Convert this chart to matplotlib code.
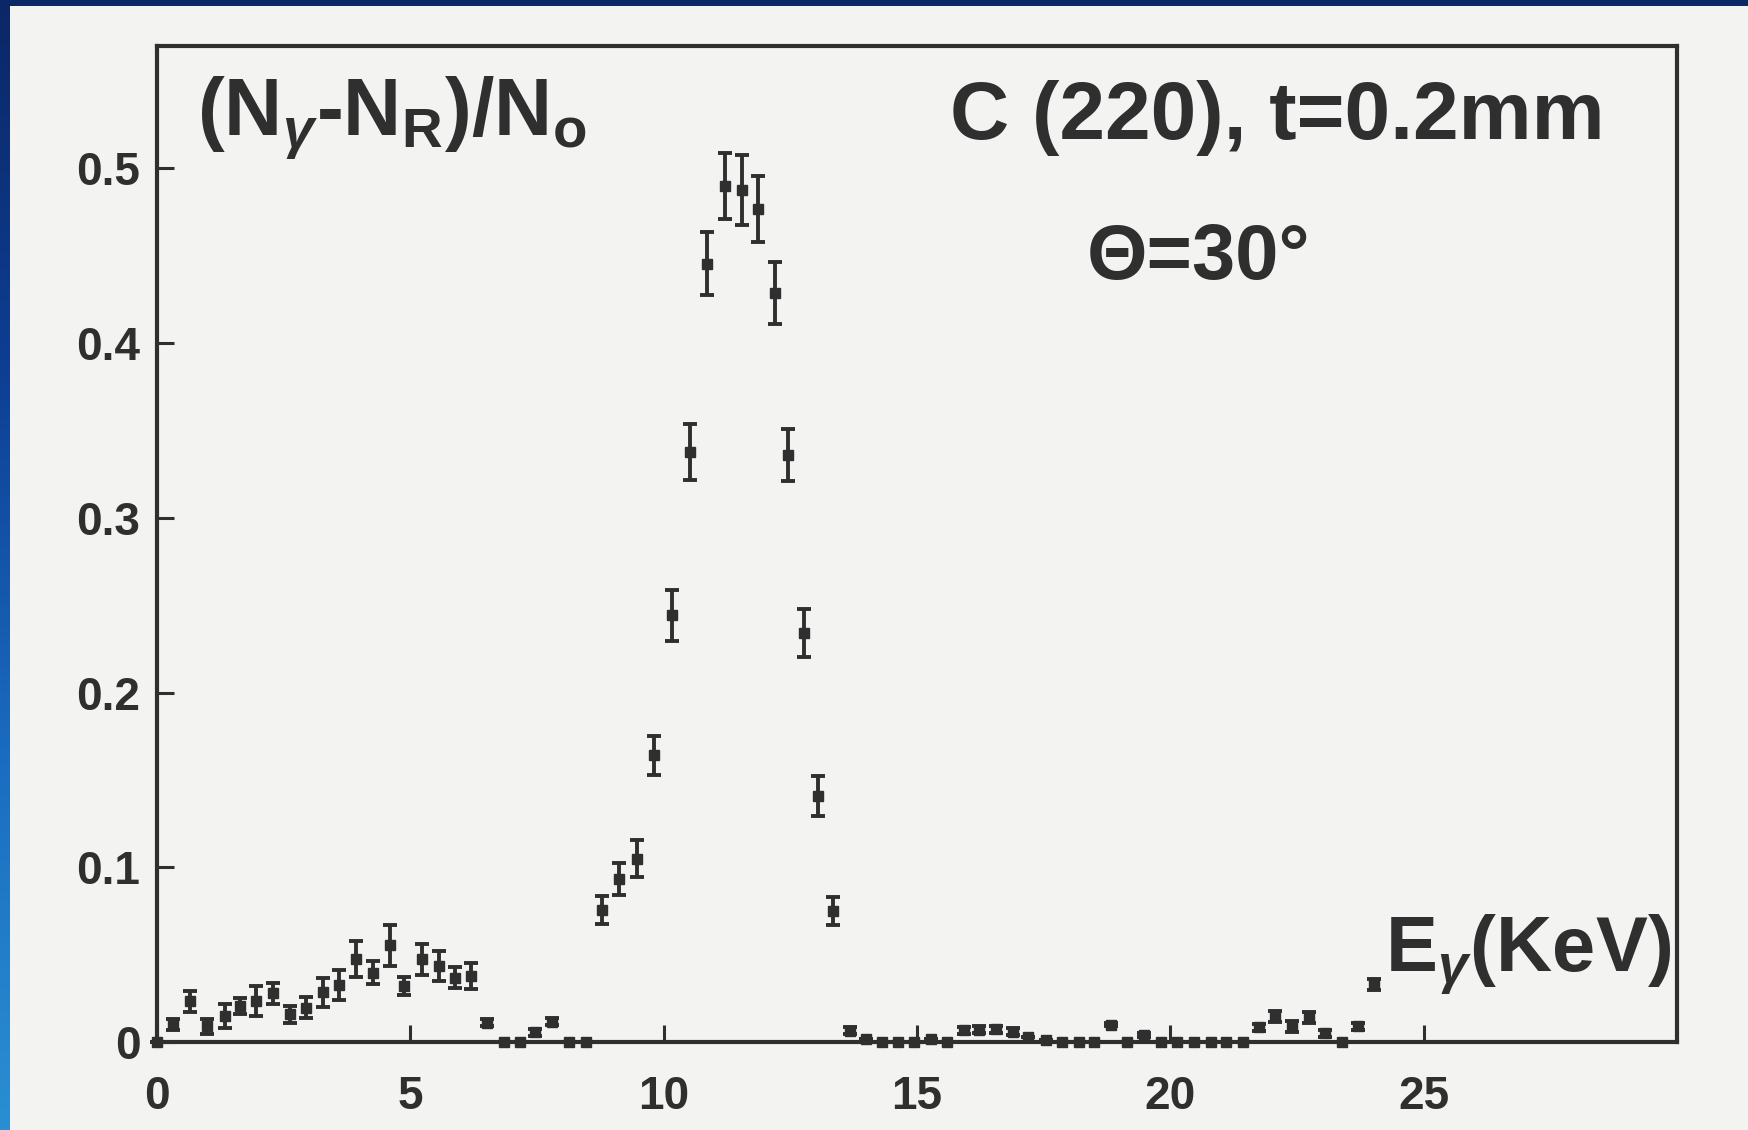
import numpy as np
import matplotlib
matplotlib.use("Agg")
import matplotlib.pyplot as plt
from matplotlib.patches import Rectangle
from matplotlib.colors import LinearSegmentedColormap

plt.rcParams['font.family'] = ['Liberation Sans', 'DejaVu Sans']
plt.rcParams['font.weight'] = 'bold'
plt.rcParams['mathtext.fontset'] = 'custom'
plt.rcParams['mathtext.bf'] = 'Liberation Sans:bold'
plt.rcParams['mathtext.rm'] = 'Liberation Sans:bold'
plt.rcParams['mathtext.it'] = 'Liberation Sans:italic'

# photon energy bins (keV), normalised yield and its error
energy = [0.00, 0.32, 0.65, 0.98, 1.34, 1.63, 1.96, 2.29, 2.62, 2.95,
          3.27, 3.59, 3.93, 4.26, 4.59, 4.88, 5.24, 5.57, 5.89, 6.19,
          6.52, 6.85, 7.16, 7.47, 7.80, 8.14, 8.46, 8.79, 9.11, 9.48,
          9.80, 10.17, 10.52, 10.85, 11.21, 11.54, 11.87, 12.20, 12.46, 12.76,
          13.05, 13.35, 13.67, 14.00, 14.30, 14.63, 14.95, 15.28, 15.60, 15.92,
          16.23, 16.55, 16.89, 17.19, 17.55, 17.87, 18.20, 18.50, 18.83, 19.15,
          19.48, 19.81, 20.14, 20.47, 20.80, 21.10, 21.43, 21.75, 22.07, 22.40,
          22.73, 23.06, 23.39, 23.71, 24.02]
ratio = [0.000, 0.0101, 0.0234, 0.0091, 0.0149, 0.0206, 0.0234, 0.0278, 0.0158, 0.0196,
         0.0286, 0.0324, 0.0473, 0.0396, 0.0553, 0.0320, 0.0473, 0.0435, 0.0368, 0.0377,
         0.0110, 0.000, 0.000, 0.0057, 0.0115, 0.000, 0.000, 0.0753, 0.0934, 0.1049,
         0.1640, 0.2442, 0.3376, 0.4454, 0.4900, 0.4875, 0.4767, 0.4285, 0.3360, 0.2342,
         0.1409, 0.0752, 0.0063, 0.0015, 0.000, 0.000, 0.000, 0.0020, 0.000, 0.0066,
         0.0070, 0.0072, 0.0060, 0.0030, 0.0013, 0.000, 0.000, 0.000, 0.0099, 0.000,
         0.0040, 0.000, 0.000, 0.000, 0.000, 0.000, 0.000, 0.0084, 0.0147, 0.0090,
         0.0141, 0.0050, 0.000, 0.0090, 0.0330]
ratio_err = [0.0, 0.003, 0.006, 0.0043, 0.0067, 0.0048, 0.0086, 0.0062, 0.0048, 0.006,
             0.0083, 0.0086, 0.0103, 0.0065, 0.0116, 0.0052, 0.0088, 0.0084, 0.006, 0.0073,
             0.002, 0.0, 0.0, 0.002, 0.002, 0.0, 0.0, 0.008, 0.009, 0.0105,
             0.0114, 0.0145, 0.016, 0.018, 0.019, 0.020, 0.019, 0.0176, 0.015, 0.0137,
             0.0114, 0.008, 0.002, 0.0, 0.0, 0.0, 0.0, 0.0, 0.0, 0.002,
             0.002, 0.002, 0.002, 0.0, 0.0, 0.0, 0.0, 0.0, 0.001, 0.0,
             0.001, 0.0, 0.0, 0.0, 0.0, 0.0, 0.0, 0.002, 0.003, 0.003,
             0.003, 0.002, 0.0, 0.002, 0.003]

x_ticks = [0, 5, 10, 15, 20, 25]
y_ticks = [0, 0.1, 0.2, 0.3, 0.4, 0.5]
y_tick_labels = ['0', '0.1', '0.2', '0.3', '0.4', '0.5']

ink = '#2f2f2f'
paper = '#f3f3f1'

W, H = 1749, 1130
fig = plt.figure(figsize=(W / 100, H / 100), dpi=100)
fig.patch.set_facecolor(paper)

# slide frame: navy strip on top, blue gradient on the left
fig.patches.append(Rectangle((0, 1 - 6 / H), 1, 6 / H, transform=fig.transFigure,
                             facecolor='#0b2766', edgecolor='none', zorder=5))
edge = fig.add_axes([0, 0, 10 / W, 1])
grad = np.linspace(0, 1, 256).reshape(-1, 1)
frame_cmap = LinearSegmentedColormap.from_list('frame', ['#0b2766', '#0e3f94', '#1a6cc0', '#2a8fd2'])
edge.imshow(grad, aspect='auto', cmap=frame_cmap, extent=[0, 1, 0, 1])
edge.axis('off')

ax = fig.add_axes([157 / W, 1 - 1042 / H, 1520 / W, 996 / H])
ax.set_facecolor(paper)

ax.errorbar(energy, ratio, yerr=ratio_err, fmt='s', ms=7.5, color=ink, ecolor=ink,
            elinewidth=2.8, capsize=5, capthick=2.8, clip_on=False, zorder=3)

ax.set_xlim(0, 30)
ax.set_ylim(0, 0.57)
ax.set_xticks(x_ticks)
ax.set_yticks(y_ticks)
ax.set_yticklabels(y_tick_labels)
ax.tick_params(direction='in', length=12, width=2.2, color=ink, labelcolor=ink,
               labelsize=33, top=False, right=False)
ax.tick_params(axis='x', pad=24)
ax.tick_params(axis='y', pad=12)
for lab in ax.get_xticklabels() + ax.get_yticklabels():
    lab.set_fontweight('bold')
for sp in ax.spines.values():
    sp.set_linewidth(3)
    sp.set_color(ink)

fig.text(197 / W, 1 - 136 / H,
         r'$\mathbf{(N}_{\gamma}\text{-}\mathbf{N}_{\mathbf{R}}\mathbf{)/N}_{\mathbf{o}}$',
         fontsize=58, color=ink, va='baseline', ha='left')
fig.text(950 / W, 1 - 139 / H, 'C (220), t=0.2mm', fontsize=59, color=ink,
         fontweight='bold', va='baseline', ha='left')
fig.text(1087 / W, 1 - 279 / H, 'Θ=30°', fontsize=56, color=ink,
         fontweight='bold', va='baseline', ha='left')
fig.text(1385 / W, 1 - 972 / H, r'$\mathbf{E}_{\gamma}\mathbf{(KeV)}$', fontsize=56,
         color=ink, va='baseline', ha='left')

fig.savefig('out.png', dpi=100, facecolor=paper)
